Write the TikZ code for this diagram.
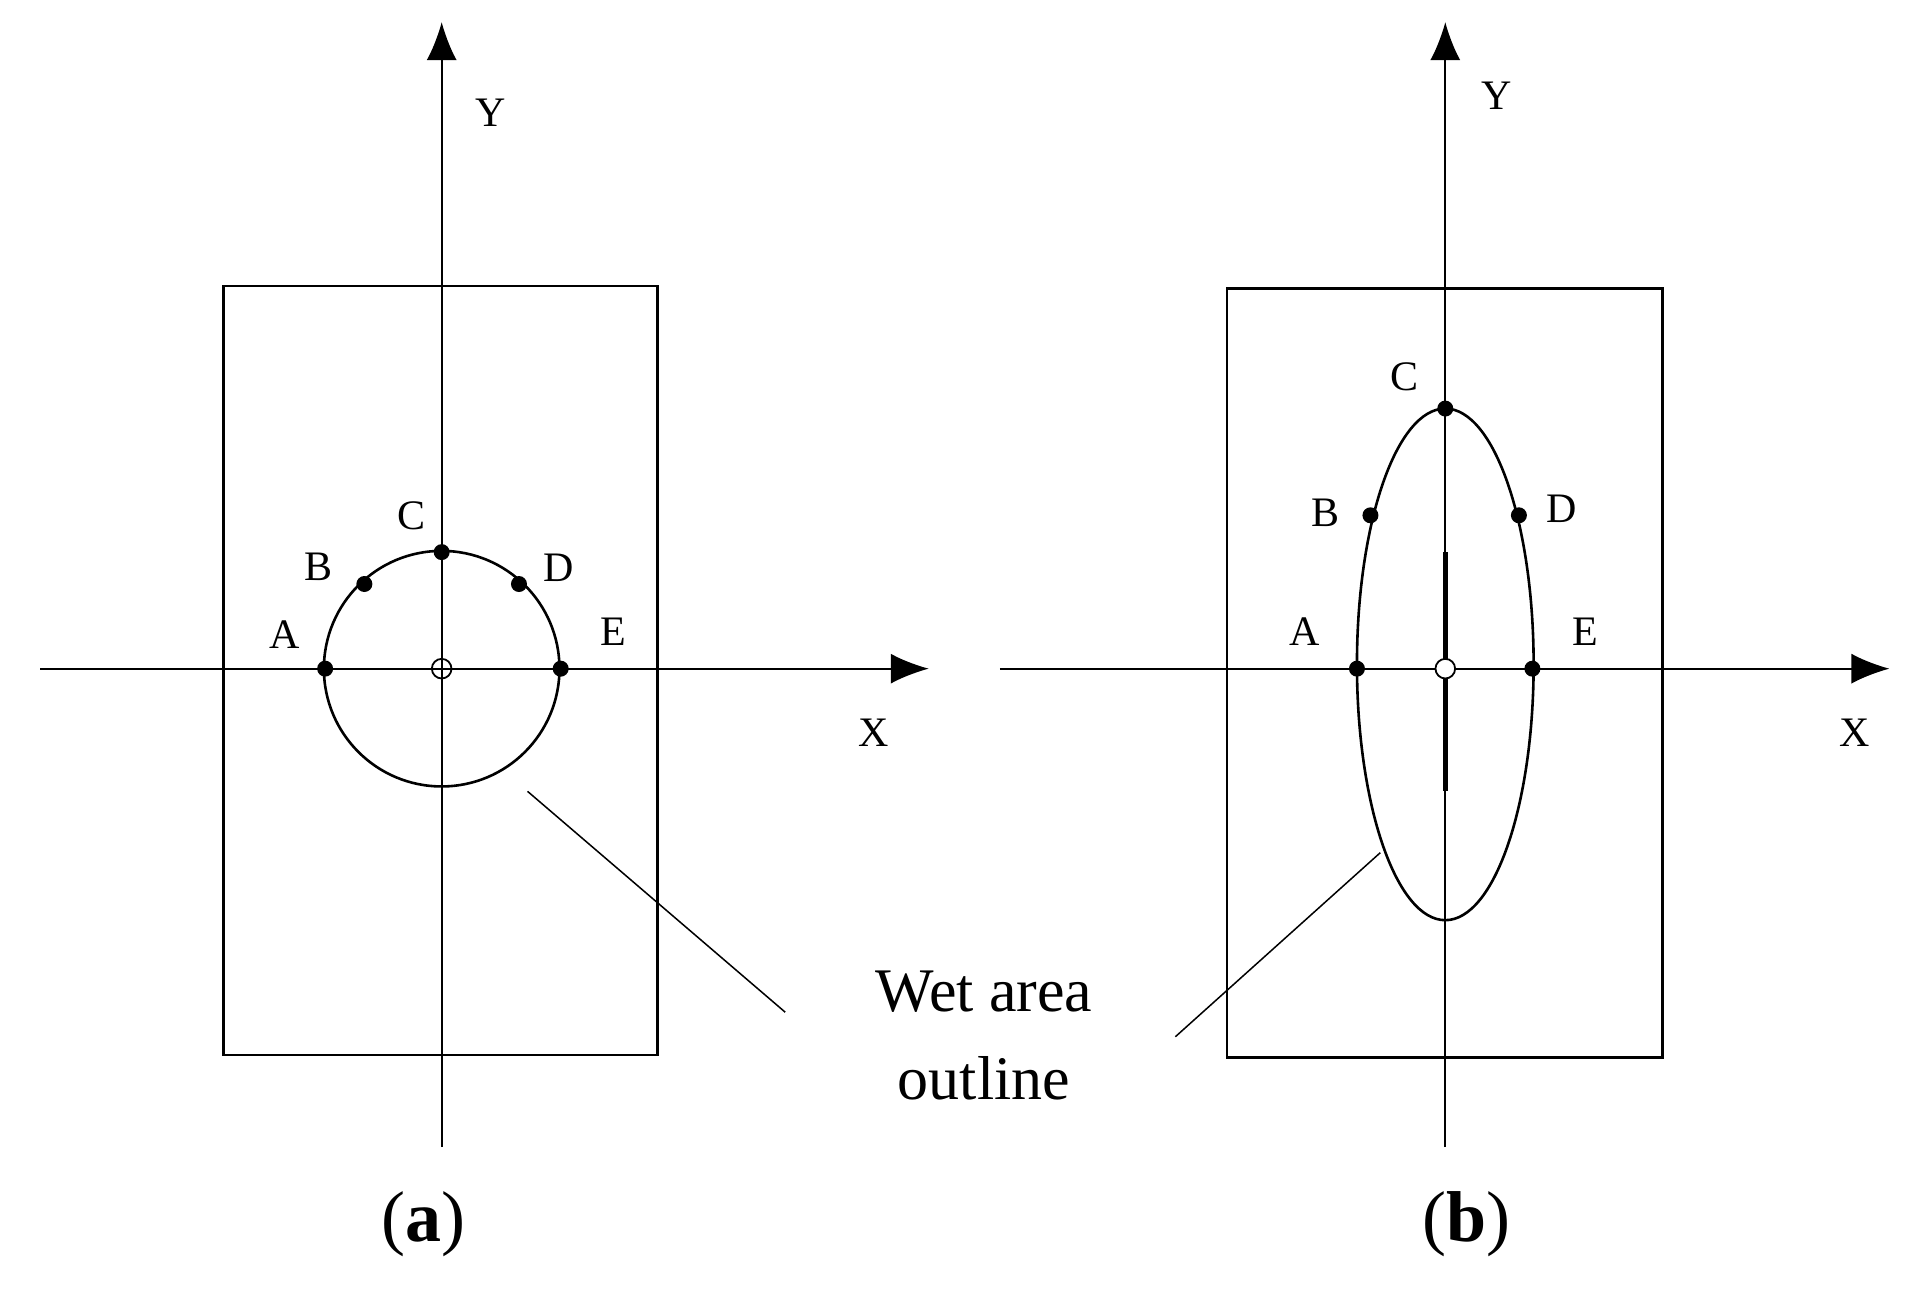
\documentclass[tikz,border=0pt]{standalone}
\usepackage{fontspec}
\setmainfont{Liberation Serif}
\usetikzlibrary{arrows.meta}
\begin{document}
\begin{tikzpicture}[x=1.227pt,y=-1.227pt,line width=2.6pt,
  lab/.style={font=\fontsize{42}{46}\selectfont},
  dot/.style={circle,fill=black,inner sep=0pt,minimum size=16pt},
  ax/.style={line width=1.8pt,-{Latex[length=38pt,width=30pt]}}]
\useasboundingbox (0,0) rectangle (1569,1064);
% panel a
\draw (182,233) rectangle (536,860);
\coordinate (xa0) at (33,545); \coordinate (xa1) at (757,545);
\coordinate (ya0) at (360,935); \coordinate (ya1) at (360,18);
\draw[ax] (xa0) -- (xa1);
\draw[ax] (ya0) -- (ya1);
\draw (360,545) circle (96);
\draw[line width=1.8pt] (360,545) circle (8);
\node[dot] (A1) at (265,545) {}; \node[dot] (B1) at (297,476) {};
\node[dot] (C1) at (360,450) {}; \node[dot] (D1) at (423,476) {};
\node[dot] (E1) at (457,545) {};
\node[lab] at (232,517) {A}; \node[lab] at (260,462) {B};
\node[lab] at (335,420) {C}; \node[lab] at (455,463) {D};
\node[lab] at (500,515) {E};
\node[lab] at (400,92) {Y}; \node[lab] at (712,597) {X};
\coordinate (la0) at (430,645); \coordinate (la1) at (640,825);
\draw[line width=1.5pt] (la0) -- (la1);
\node[font=\fontsize{72}{80}\selectfont] at (345,998) {(\textbf{a})};
% panel b
\draw (1000,235) rectangle (1355,862);
\coordinate (xb0) at (815,545); \coordinate (xb1) at (1540,545);
\coordinate (yb0) at (1178,935); \coordinate (yb1) at (1178,18);
\draw[ax] (xb0) -- (xb1);
\draw[ax] (yb0) -- (yb1);
\draw (1178,541.5) ellipse (72 and 208.5);
\draw[line width=5.5pt] (1178,450) -- (1178,645);
\draw[line width=1.8pt,fill=white] (1178,545) circle (8);
\node[dot] (A2) at (1106,545) {}; \node[dot] (B2) at (1117,420) {};
\node[dot] (C2) at (1178,333) {}; \node[dot] (D2) at (1238,420) {};
\node[dot] (E2) at (1249,545) {};
\node[lab] at (1063,515) {A}; \node[lab] at (1080,418) {B};
\node[lab] at (1145,307) {C}; \node[lab] at (1273,415) {D};
\node[lab] at (1292,515) {E};
\node[lab] at (1220,78) {Y}; \node[lab] at (1512,597) {X};
\coordinate (lb0) at (1125,695); \coordinate (lb1) at (958,845);
\draw[line width=1.5pt] (lb0) -- (lb1);
\node[font=\fontsize{62}{88}\selectfont,align=center] (w) at (802,844) {Wet area\\outline};
\node[font=\fontsize{72}{80}\selectfont] at (1195,998) {(\textbf{b})};
\end{tikzpicture}
\end{document}
